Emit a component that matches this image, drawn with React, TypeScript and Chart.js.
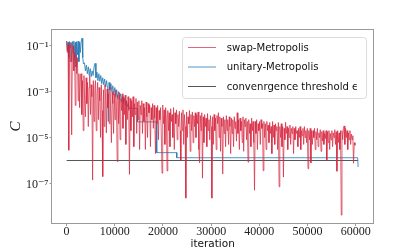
import { useEffect, useRef } from 'react';
import { Chart, registerables } from 'chart.js';

Chart.register(...registerables);

// ---- data ----
const SERIES_LABELS = ['swap-Metropolis', 'unitary-Metropolis', 'convenrgence threshold ϵ'];

// swap-Metropolis: cost C sampled every RED_STEP iterations (0 ... 59850)
const RED_STEP = 150;
const RED_C = [
  // 0 - 2850
  1.6e-1, 5e-2, 1.2e-1, 2.8e-6, 1e-1, 2e-2, 1.3e-1, 1.3e-5, 6e-2, 1e-1, 8e-3, 5e-2, 2.5e-4, 4e-2, 6e-3, 3e-2, 4e-4, 6e-3, 2e-4, 5e-3,
  // 3000 - 5850
  6e-3, 1e-4, 3e-3, 2e-5, 5e-3, 4e-4, 8e-5, 4e-3, 3e-4, 2.5e-3, 3e-5, 1.5e-3, 5e-3, 1e-4, 2e-3, 6e-4, 1.4e-7, 3e-3, 5e-5, 1.2e-3,
  // 6000 - 8850
  3e-3, 2e-5, 8e-4, 2.5e-3, 6e-5, 1.5e-3, 4e-4, 1e-5, 2e-3, 1.5e-4, 2e-7, 1.2e-3, 3e-5, 2e-3, 5e-4, 1.6e-5, 1.3e-3, 2e-4, 8e-4, 4e-5,
  // 9000 - 11850
  1.6e-3, 1e-4, 6e-6, 1e-3, 3e-4, 1.5e-5, 8e-4, 6e-5, 1.2e-3, 2e-4, 9e-7, 7e-4, 4e-5, 9e-4, 8e-6, 5e-4, 1.5e-4, 8e-4, 2.5e-5, 6e-4,
  // 12000 - 14850
  1e-4, 7e-4, 5e-6, 4e-4, 6e-5, 6e-4, 1.5e-4, 2.5e-7, 5e-4, 2e-5, 4e-4, 8e-5, 6e-4, 4e-6, 3e-4, 1e-4, 5e-4, 1.5e-5, 3.5e-4, 6e-5,
  // 15000 - 17850
  4e-4, 3e-6, 2.5e-4, 1e-4, 4e-4, 1.5e-5, 3e-4, 5e-5, 2e-4, 3e-6, 3.5e-4, 8e-5, 1e-5, 3e-4, 1.2e-4, 2.5e-4, 4e-6, 2e-4, 6e-5, 3e-4,
  // 18000 - 20850
  2.5e-5, 2.5e-4, 7e-5, 2e-6, 2e-4, 4e-5, 2.5e-4, 8e-6, 1.5e-4, 6e-5, 2e-4, 1.5e-5, 2.8e-7, 2.6e-4, 4e-5, 1.6e-4, 5e-6, 2e-4, 7e-5, 3.5e-7,
  // 21000 - 23850
  1.5e-4, 2e-5, 1.2e-4, 4e-6, 1.8e-4, 5e-5, 1e-4, 1e-5, 2e-4, 3e-6, 1.2e-4, 4e-5, 1.6e-4, 8e-6, 1e-4, 3e-5, 1.4e-4, 2e-5, 1e-6, 1.2e-4,
  // 24000 - 26850
  2e-5, 1.6e-4, 5e-6, 1e-4, 3e-5, 2.3e-8, 1.3e-4, 1e-5, 8e-5, 4e-5, 1.5e-4, 2.5e-6, 1e-4, 2e-5, 1.3e-4, 6e-6, 9e-5, 3e-5, 1.2e-4, 1e-5,
  // 27000 - 29850
  1e-4, 4e-5, 1.3e-4, 3e-6, 8e-7, 9e-5, 2e-5, 1.2e-4, 1.7e-7, 8e-5, 6e-6, 1e-4, 3e-5, 7e-5, 4e-6, 1.1e-4, 2e-5, 6e-5, 8e-6, 9e-5,
  // 30000 - 32850
  3e-5, 2.3e-8, 8e-5, 5e-6, 1e-4, 2e-5, 7e-5, 3e-6, 9e-5, 4e-5, 1.2e-4, 1e-5, 8e-5, 2.5e-6, 7e-5, 3e-5, 2.6e-7, 8e-5, 1.5e-5, 6e-5,
  // 33000 - 35850
  4e-6, 9e-5, 2e-5, 6e-5, 5e-6, 8e-5, 3e-5, 2e-6, 7e-5, 1.5e-5, 6e-5, 4e-6, 8e-5, 2.5e-5, 5e-5, 7e-6, 1.2e-4, 1.5e-5, 6e-5, 3e-6,
  // 36000 - 38850
  7e-5, 2e-5, 5e-5, 6e-6, 8e-5, 2.5e-6, 6e-5, 3e-5, 7e-5, 8e-6, 5e-5, 8.5e-7, 6e-5, 1.5e-5, 4e-5, 4e-6, 7e-5, 2e-5, 5e-5, 6e-6,
  // 39000 - 41850
  5.1e-8, 5e-5, 1.5e-5, 6e-5, 3e-6, 4e-5, 2e-5, 5e-5, 5e-6, 6e-5, 2.5e-5, 4e-5, 3.6e-7, 5e-5, 1e-5, 4e-5, 3e-6, 5e-5, 2e-5, 3.5e-5,
  // 42000 - 44850
  6e-6, 4.5e-5, 1.5e-5, 3e-5, 2e-6, 5e-5, 1e-5, 3.5e-5, 5e-6, 4e-5, 2e-5, 3e-5, 3e-6, 4.5e-5, 7.2e-8, 3e-5, 1e-5, 4e-5, 4e-6, 3e-5,
  // 45000 - 47850
  1.9e-7, 2.5e-5, 8e-6, 4.6e-5, 1.5e-5, 3e-5, 3e-6, 2.5e-5, 1e-5, 3.5e-5, 5e-6, 2.5e-5, 1.5e-5, 3e-5, 2e-6, 2.5e-5, 8e-6, 3e-5, 1.5e-5, 2e-5,
  // 48000 - 50850
  4e-6, 2.5e-5, 1e-5, 3e-5, 3e-6, 2e-5, 1.2e-5, 2.5e-5, 5e-6, 3e-5, 1e-5, 2e-5, 6e-6, 2.5e-5, 4.4e-7, 2e-5, 8e-6, 2.5e-5, 7.9e-7, 2e-5,
  // 51000 - 53850
  5e-6, 2e-5, 1e-5, 2.5e-5, 3e-6, 1.8e-5, 8e-6, 2.5e-5, 4e-6, 1.6e-5, 1e-5, 2.2e-5, 2.5e-6, 1.8e-5, 7e-6, 2e-5, 5e-6, 1.5e-5, 9e-6, 2e-5,
  // 54000 - 56850
  1e-6, 1.8e-5, 6e-6, 2e-5, 3e-6, 1.5e-5, 8e-6, 2e-5, 4e-6, 1.6e-5, 1e-5, 2.2e-5, 5e-6, 1.8e-5, 3.4e-7, 2e-5, 6e-6, 1.6e-5, 3e-6, 2e-5,
  // 57000 - 59850
  4.2e-9, 2e-5, 8e-6, 2.5e-5, 3.2e-5, 5e-6, 2.5e-5, 1e-5, 2e-5, 3e-6, 1.6e-5, 8e-6, 2e-5, 5e-6, 1.4e-5, 8e-6, 1.2e-5, 7.6e-7, 6e-6, 4.6e-6,
];

// unitary-Metropolis: (iteration, C)
const BLUE_ITER = [
  0, 150, 300, 450, 600, 750, 900, 1050, 1200, 1350, 1500, 1650, 1800, 1950, 2100, 2250, 2400, 2550, 2700, 2850,
  3000, 3200, 3350, 3500,
  3700, 3900, 4100, 4300, 4500, 4700, 4900, 5100, 5300, 5500, 5700, 5900, 6100, 6300, 6500, 6700, 6900, 7100, 7300, 7500,
  7700, 7900, 8100, 8300, 8500, 8650, 8800, 9000, 9200, 9400, 9600, 9800, 10000, 10200, 10400, 10600, 10800, 11000,
  11200, 11400, 11600, 11800, 12000, 12200, 12400, 12600, 12800, 13000,
  14700, 14700, 18700, 18700, 22860, 22860, 60400, 60500,
];
const BLUE_C = [
  1.58e-1, 6e-2, 1.45e-1, 3e-2, 1.5e-1, 8e-2, 1.4e-1, 2e-2, 1.5e-1, 5e-2, 1.6e-1, 2.5e-2, 1.4e-1, 1.2e-2, 1.5e-1, 4e-2, 1.55e-1, 2e-2, 1.4e-1, 5e-2,
  1.45e-1, 2.1e-1, 3e-2, 1.6e-2,
  1.8e-2, 8e-3, 1.4e-2, 6e-3, 1.2e-2, 5e-3, 1e-2, 4.5e-3, 8e-3, 5e-3, 1.2e-2, 1.7e-2, 4e-3, 7e-3, 3e-3, 6e-3, 2.8e-3, 5e-3, 2.2e-3, 4e-3,
  2e-3, 3.5e-3, 1.6e-3, 3e-3, 1.4e-3, 5e-5, 2.5e-3, 1.2e-3, 2.2e-3, 1e-3, 1.8e-3, 7e-4, 1.5e-3, 6e-4, 1.2e-3, 5e-4, 1e-3, 4.5e-4,
  8e-4, 3.5e-4, 6e-4, 3e-4, 5e-4, 2.5e-4, 4e-4, 2.2e-4, 3e-4, 1.86e-4,
  1.86e-4, 4.8e-5, 4.8e-5, 2.2e-6, 2.2e-6, 1.32e-6, 1.32e-6, 5.2e-7,
];

// convergence threshold epsilon
const THRESH_ITER = [0, 60500];
const THRESH_C = [1e-6, 1e-6];

// axes
const X_TICKS = [0, 10000, 20000, 30000, 40000, 50000, 60000];
const Y_TICKS = [1e-1, 1e-3, 1e-5, 1e-7];
const Y_TICK_LABELS = ['10⁻¹', '10⁻³', '10⁻⁵', '10⁻⁷'];
const X_MIN = -3030;
const X_MAX = 63650;
const Y_MIN = 1.9e-9;
const Y_MAX = 0.48;

const FRAME_COLOR = '#9a9a9a';

const framePlugin = {
  id: 'frame',
  afterDatasetsDraw(chart: any) {
    const { ctx, chartArea: a } = chart;
    ctx.save();
    ctx.strokeStyle = FRAME_COLOR;
    ctx.lineWidth = 1;
    ctx.strokeRect(Math.round(a.left) - 0.5, Math.round(a.top) - 0.5, Math.round(a.right - a.left) + 1, Math.round(a.bottom - a.top) + 1);
    ctx.restore();
  },
};

const legendPlugin = {
  id: 'boxLegend',
  afterDraw(chart: any) {
    const { ctx } = chart;
    const x0 = 182.5, y0 = 37.5, w = 184, h = 61;
    ctx.save();
    ctx.beginPath();
    ctx.roundRect(x0, y0, w, h, 3);
    ctx.fillStyle = 'rgba(255,255,255,0.8)';
    ctx.fill();
    ctx.strokeStyle = '#dcdcdc';
    ctx.lineWidth = 1;
    ctx.stroke();
    ctx.font = '10.1px "DejaVu Sans"';
    ctx.textBaseline = 'middle';
    ctx.textAlign = 'left';
    chart.data.datasets.forEach((ds: any, i: number) => {
      const y = 47.5 + i * 19.5;
      ctx.beginPath();
      ctx.moveTo(188, y);
      ctx.lineTo(216, y);
      ctx.strokeStyle = ds.borderColor;
      ctx.lineWidth = 1;
      ctx.stroke();
      ctx.fillStyle = '#111';
      ctx.fillText(ds.label, 226.7, y + 0.5);
    });
    ctx.restore();
  },
};

export default function App() {
  const ref = useRef<HTMLCanvasElement | null>(null);

  useEffect(() => {
    if (!ref.current) return;
    const redData = RED_C.map((c, i) => ({ x: i * RED_STEP, y: c }));
    const blueData = BLUE_C.map((c, i) => ({ x: BLUE_ITER[i], y: c }));
    const thrData = THRESH_C.map((c, i) => ({ x: THRESH_ITER[i], y: c }));

    const chart = new Chart(ref.current, {
      type: 'line',
      data: {
        datasets: [
          {
            label: SERIES_LABELS[0],
            data: redData,
            borderColor: 'rgba(214,39,62,0.7)',
            borderWidth: 1,
            pointRadius: 0,
            tension: 0,
            fill: false,
          },
          {
            label: SERIES_LABELS[1],
            data: blueData,
            borderColor: 'rgba(31,119,180,0.78)',
            borderWidth: 1,
            pointRadius: 0,
            tension: 0,
            fill: false,
          },
          {
            label: SERIES_LABELS[2],
            data: thrData,
            borderColor: 'rgba(30,30,30,0.75)',
            borderWidth: 1,
            pointRadius: 0,
            tension: 0,
            fill: false,
          },
        ],
      },
      options: {
        responsive: false,
        animation: false,
        devicePixelRatio: 1,
        layout: { padding: { top: 30, right: 41.7, left: 0, bottom: 0 } },
        plugins: {
          legend: { display: false },
          tooltip: { enabled: false },
        },
        scales: {
          x: {
            type: 'linear',
            min: X_MIN,
            max: X_MAX,
            afterFit: (s: any) => { s.height = 28; },
            afterBuildTicks: (s: any) => { s.ticks = X_TICKS.map((v) => ({ value: v })); },
            grid: { display: true, drawOnChartArea: false, drawTicks: true, tickLength: 3, color: FRAME_COLOR },
            border: { display: false },
            ticks: {
              maxRotation: 0,
              autoSkip: false,
              padding: 0,
              color: '#222',
              font: { family: '"Liberation Serif", serif', size: 12, lineHeight: 1 },
              callback: (v: any) => String(v),
            },
            title: {
              display: true,
              text: 'iteration',
              color: '#111',
              font: { family: '"DejaVu Sans", sans-serif', size: 10.5, lineHeight: 1.2 },
              padding: { top: 0, bottom: 0.5 },
            },
          },
          y: {
            type: 'logarithmic',
            min: Y_MIN,
            max: Y_MAX,
            afterFit: (s: any) => { s.width = 52; },
            afterBuildTicks: (s: any) => { s.ticks = Y_TICKS.map((v) => ({ value: v })); },
            grid: { display: true, drawOnChartArea: false, drawTicks: true, tickLength: 2.5, color: FRAME_COLOR },
            border: { display: false },
            ticks: {
              autoSkip: false,
              padding: 1,
              labelOffset: 1,
              color: '#222',
              font: { family: '"Liberation Serif", "DejaVu Serif", serif', size: 12, lineHeight: 1 },
              callback: (v: any) => {
                const k = Y_TICKS.indexOf(Number(v));
                return k >= 0 ? Y_TICK_LABELS[k] : '';
              },
            },
            title: {
              display: true,
              text: 'C',
              color: '#111',
              font: { family: '"Liberation Serif", serif', size: 15, style: 'italic', lineHeight: 1.2 },
              padding: { top: 7.5, bottom: 0 },
            },
          },
        },
      },
      plugins: [framePlugin, legendPlugin],
    });
    return () => chart.destroy();
  }, []);

  return (
    <div style={{ position: 'absolute', left: 0, top: 0, width: 415, height: 251, background: '#fff' }}>
      <canvas ref={ref} width={415} height={251} style={{ display: 'block' }} />
    </div>
  );
}
